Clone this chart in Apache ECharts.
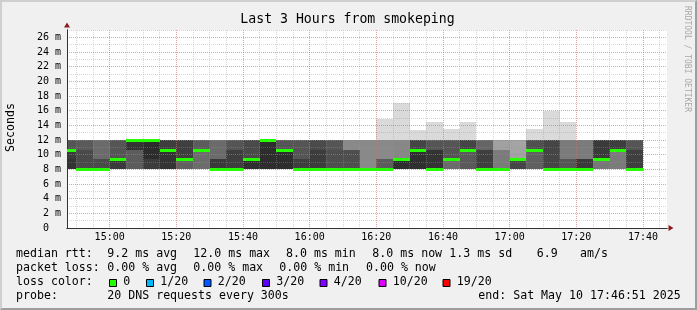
<!DOCTYPE html>
<html><head><meta charset="utf-8">
<script src="https://cdn.jsdelivr.net/npm/echarts@6/dist/echarts.min.js"></script>
<style>
html,body{margin:0;padding:0;background:#f0f0f0;}
#wrap{position:relative;width:697px;height:310px;overflow:hidden;}
#chart{position:absolute;left:0;top:0;width:697px;height:310px;}
#frame{position:absolute;left:0;top:0;width:697px;height:310px;box-sizing:border-box;border-style:solid;border-width:2px;border-color:#cfcfcf #9e9e9e #9e9e9e #cfcfcf;pointer-events:none;}
</style></head>
<body><div id="wrap"><div id="chart"></div><div id="frame"></div></div>
<script>
// ---- data ----
const graphStart = '14:47.2';   // left edge of the 3 hour window
const graphEnd = '17:47.2';
const stepMinutes = 5;          // 300 s step
const binStart = ['14:45','14:50','14:55','15:00','15:05','15:10','15:15','15:20','15:25','15:30','15:35','15:40','15:45','15:50','15:55','16:00','16:05','16:10','16:15','16:20','16:25','16:30','16:35','16:40','16:45','16:50','16:55','17:00','17:05','17:10','17:15','17:20','17:25','17:30','17:35'];
const medianRtt = [10.6,8.0,8.0,9.45,12.0,12.0,10.6,9.45,10.6,8.0,8.0,9.45,12.0,10.6,8.0,8.0,8.0,8.0,8.0,8.0,9.45,10.6,8.0,9.45,10.6,8.0,8.0,9.45,10.6,8.0,8.0,8.0,9.45,10.6,8.0];
// ping rtt levels (ms) bounding the smoke bands
const bandEdges = [8.0, 9.45, 10.6, 12.0];
// smoke density (0 = light, 1 = dark) of each band per step
const densLow  = [0.94,0.81,0.81,0.90,0.71,0.89,0.94,0.69,0.62,0.90,0.88,0.96,0.97,0.97,0.88,0.89,0.79,0.79,0.46,0.71,0.97,0.96,0.94,0.63,0.72,0.87,0.54,0.84,0.69,0.84,0.75,0.90,0.56,0.54,0.87];
const densMid  = [0.90,0.81,0.63,0.75,0.71,0.98,0.94,0.87,0.62,0.63,0.88,0.81,0.97,0.97,0.75,0.89,0.79,0.79,0.46,0.46,0.47,0.96,0.94,0.75,0.72,0.87,0.54,0.31,0.69,0.84,0.54,0.54,0.90,0.54,0.87];
const densHigh = [0.75,0.72,0.63,0.75,0.94,0.98,0.88,0.87,0.71,0.63,0.75,0.81,0.97,0.75,0.75,0.81,0.75,0.46,0.46,0.46,0.47,0.84,0.75,0.75,0.84,0.66,0.33,0.31,0.78,0.84,0.54,0.54,0.90,0.88,0.75];
// slowest ping (ms) where it stands above the band
const outlierTop = [null,null,null,null,null,null,null,null,null,null,null,null,null,null,null,null,null,null,null,14.9,17.0,13.3,14.4,13.5,14.4,null,null,null,13.5,15.9,14.4,null,null,null,null];
const outlierDensity = 0.01;
const yTicksMax = 27;
const titleText = 'Last 3 Hours from smokeping';
const rttLabel = 'median rtt:';
const rttStats = ['9.2 ms avg','12.0 ms max','8.0 ms min','8.0 ms now','1.3 ms sd','6.9','am/s'];
const lossLabel = 'packet loss:';
const lossStats = ['0.00 % avg','0.00 % max','0.00 % min','0.00 % now'];
const lossColorLabel = 'loss color:';
const lossColorNames = ['0','1/20','2/20','3/20','4/20','10/20','19/20'];
const lossColors = ['#26ff00','#00b8ff','#0059ff','#5e00ff','#7e00ff','#dd00ff','#ff0000'];
const probeLabel = 'probe:';
const probeText = '20 DNS requests every 300s';
const endText = 'end: Sat May 10 17:46:51 2025';

// ---- helpers ----
function toMin(s){ const p = s.split(':'); return (+p[0])*60 + parseFloat(p[1]); }
function fmt(v){ const h = Math.floor(v/60), m = Math.round(v - h*60); return String(h).padStart(2,'0') + ':' + String(m).padStart(2,'0'); }

const smokeData = [];
binStart.forEach((s, i) => {
  const t0 = toMin(s), t1 = t0 + stepMinutes;
  const dens = [densLow[i], densMid[i], densHigh[i]];
  for (let b = 0; b < 3; b++) smokeData.push([t0, t1, bandEdges[b], bandEdges[b+1], dens[b]]);
  if (outlierTop[i] != null) smokeData.push([t0, t1, bandEdges[3], outlierTop[i], outlierDensity]);
});
const medianData = binStart.map((s, i) => [toMin(s), toMin(s) + stepMinutes, medianRtt[i]]);

function renderSmoke(params, api) {
  const cs = params.coordSys;
  const a = api.coord([api.value(0), api.value(3)]);
  const b = api.coord([api.value(1), api.value(2)]);
  const x0 = Math.round(Math.max(a[0], cs.x)), x1 = Math.round(Math.min(b[0], cs.x + cs.width));
  const y0 = Math.round(a[1]), y1 = Math.round(b[1]);
  const g = Math.round(220 - 180 * api.value(4));
  return { type: 'rect', shape: { x: x0, y: y0, width: x1 - x0, height: y1 - y0 }, style: { fill: 'rgb(' + g + ',' + g + ',' + g + ')' } };
}
function renderMedian(params, api) {
  const cs = params.coordSys;
  const a = api.coord([api.value(0), api.value(2)]);
  const b = api.coord([api.value(1), api.value(2)]);
  const x0 = Math.round(Math.max(a[0], cs.x)), x1 = Math.round(Math.min(b[0], cs.x + cs.width));
  return { type: 'rect', shape: { x: x0, y: Math.round(a[1]) - 1, width: x1 - x0, height: 3 }, style: { fill: lossColors[0] } };
}

const MONO = 'DejaVu Sans Mono';
const minorLine = { show: true, lineStyle: { color: 'rgba(150,150,150,0.38)', width: 1, type: [1, 1] } };
const majorLine = { show: true, lineStyle: { color: 'rgba(235,90,90,0.42)', width: 1, type: [1, 1] } };
const xMin = toMin(graphStart), xMax = toMin(graphEnd);

function txt(x, y, text, extra) {
  return Object.assign({ type: 'text', x: x, y: y, silent: true,
    style: Object.assign({ text: text, fontFamily: MONO, fontSize: 11.6, fill: '#000', align: 'left', verticalAlign: 'middle' }, extra || {}) });
}
const graphics = [];
graphics.push(txt(347.5, 19.5, titleText, { fontSize: 13.2, align: 'center' }));
graphics.push(Object.assign(txt(10.5, 127.5, 'Seconds', { fontSize: 11.6, align: 'center' }), { rotation: Math.PI / 2 }));
graphics.push(Object.assign(txt(687, 59, 'RRDTOOL / TOBI OETIKER', { fontSize: 8, align: 'center', fill: '#a8a8a8' }), { rotation: -Math.PI / 2 }));
const L1 = 254.3, L2 = 268, L3 = 282.3, L4 = 295.7;
graphics.push(txt(16, L1, rttLabel));
const rttX = [107.3, 193.3, 286, 372.3, 449.3, 536.7, 580];
rttStats.forEach((t, i) => graphics.push(txt(rttX[i], L1, t)));
graphics.push(txt(16, L2, lossLabel));
const lossX = [107.3, 193.3, 279.3, 366];
lossStats.forEach((t, i) => graphics.push(txt(lossX[i], L2, t)));
graphics.push(txt(16, L3, lossColorLabel));
const boxX = [109, 146, 203.5, 262, 319.5, 378.5, 442.5];
lossColorNames.forEach((t, i) => {
  graphics.push({ type: 'rect', silent: true, shape: { x: boxX[i] + 0.5, y: 279.5, width: 7, height: 7 }, style: { fill: lossColors[i], stroke: '#000', lineWidth: 1 } });
  graphics.push(txt(boxX[i] + 14.3, L3, t));
});
graphics.push(txt(16, L4, probeLabel));
graphics.push(txt(107.3, L4, probeText));
graphics.push(txt(478.3, L4, endText));

const chart = echarts.init(document.getElementById('chart'), null, { renderer: 'canvas' });
chart.setOption({
  animation: false,
  backgroundColor: '#f0f0f0',
  grid: { left: 67, top: 30, width: 600, height: 198, show: true, backgroundColor: '#ffffff', borderWidth: 0 },
  xAxis: [
    { type: 'value', min: xMin, max: xMax, splitNumber: 9, position: 'bottom', z: 6,
      axisLine: { show: true, onZero: false, lineStyle: { color: '#333', width: 1 } },
      axisTick: { show: false },
      axisLabel: { show: true, showMinLabel: false, showMaxLabel: false, margin: 4, fontFamily: MONO, fontSize: 10, color: '#000',
        formatter: v => (Math.abs(v - Math.round(v)) > 1e-6 ? '' : fmt(v)) },
      splitLine: Object.assign({ showMinLine: false, showMaxLine: false }, majorLine) },
    { type: 'value', min: xMin, max: xMax, splitNumber: 36, position: 'bottom', z: 5,
      axisLine: { show: false, onZero: false }, axisTick: { show: false }, axisLabel: { show: false },
      splitLine: Object.assign({ showMinLine: false, showMaxLine: false }, minorLine) },
    { type: 'value', min: xMin, max: xMax, position: 'bottom', z: 4,
      axisLine: { show: true, onZero: false, symbol: ['none', 'triangle'], symbolSize: [6, 5], symbolOffset: [0, 4], lineStyle: { color: '#8e1b1b', width: 1 } },
      axisTick: { show: false }, axisLabel: { show: false }, splitLine: { show: false } }
  ],
  yAxis: [
    { type: 'value', min: 0, max: yTicksMax, interval: 1, position: 'left', z: 5,
      axisLine: { show: false, onZero: false }, axisTick: { show: false }, axisLabel: { show: false },
      splitLine: Object.assign({ showMinLine: false, showMaxLine: true }, minorLine) },
    { type: 'value', min: 0, max: yTicksMax, interval: 2, position: 'left', z: 6,
      axisLine: { show: true, onZero: false, lineStyle: { color: '#333', width: 1 } },
      axisTick: { show: false },
      axisLabel: { show: true, showMaxLabel: false, margin: 6, fontFamily: MONO, fontSize: 10, color: '#000',
        formatter: v => (v === 0 ? '0\u00a0\u00a0' : v + ' m') },
      splitLine: Object.assign({ showMinLine: false, showMaxLine: false }, majorLine) },
    { type: 'value', min: 0, max: yTicksMax, position: 'left', z: 4,
      axisLine: { show: true, onZero: false, symbol: ['none', 'triangle'], symbolSize: [6, 5], symbolOffset: [0, 5], lineStyle: { color: '#8e1b1b', width: 1 } },
      axisTick: { show: false }, axisLabel: { show: false }, splitLine: { show: false } }
  ],
  series: [
    { type: 'custom', name: 'smoke', xAxisIndex: 0, yAxisIndex: 0, z: 2, silent: true,
      renderItem: renderSmoke, encode: { x: [0, 1], y: [2, 3] }, data: smokeData },
    { type: 'custom', name: 'median', xAxisIndex: 0, yAxisIndex: 0, z: 10, silent: true,
      renderItem: renderMedian, encode: { x: [0, 1], y: 2 }, data: medianData }
  ],
  graphic: graphics
});
</script>
</body></html>
